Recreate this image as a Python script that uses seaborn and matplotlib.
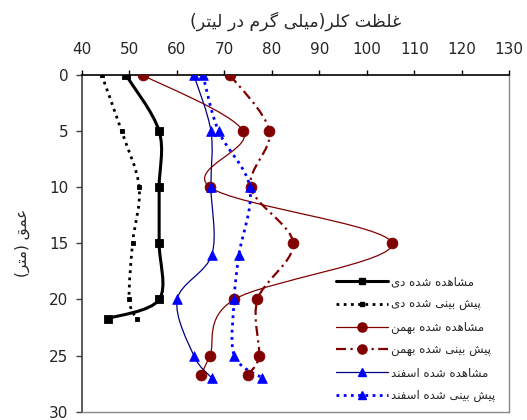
import unicodedata

import numpy as np
import pandas as pd
import matplotlib
matplotlib.use("Agg")
import matplotlib.pyplot as plt
import seaborn as sns
from matplotlib.path import Path
from matplotlib.patches import PathPatch
from matplotlib.lines import Line2D

# ---- data: chloride concentration (mg/L) against depth (m) ----
depth_dey = [0, 5, 10, 15, 20, 21.7]
dey_observed = [49.3, 56.3, 56.3, 56.3, 56.3, 45.5]
dey_predicted = [44.2, 48.4, 52.1, 50.7, 50.0, 51.6]

depth_bahman = [0, 5, 10, 15, 20, 25, 26.7]
bahman_observed = [52.8, 74.0, 67.0, 105.3, 72.1, 67.0, 65.1]
bahman_predicted = [71.2, 79.5, 75.6, 84.5, 77.0, 77.3, 74.9]

depth_esfand = [0, 5, 10, 16, 20, 25, 27]
esfand_observed = [63.6, 67.2, 67.2, 67.4, 60.1, 63.6, 67.4]
esfand_predicted = [65.5, 68.8, 75.4, 73.1, 72.1, 72.1, 78.0]

series_labels = [
    "مشاهده شده دی",
    "پیش بینی شده دی",
    "مشاهده شده بهمن",
    "پیش بینی شده بهمن",
    "مشاهده شده اسفند",
    "پیش بینی شده اسفند",
]
x_title = "غلظت کلر(میلی گرم در لیتر)"
y_title = "عمق (متر)"
x_ticks = list(range(40, 131, 10))
y_ticks = list(range(0, 31, 5))

MIRROR = {"(": ")", ")": "("}


def shape_rtl(text):
    """Join Persian letters into presentation forms and lay them out right-to-left."""
    def forms(ch):
        try:
            name = unicodedata.name(ch)
        except ValueError:
            return {}
        if not name.startswith("ARABIC LETTER"):
            return {}
        out = {}
        for f in ("ISOLATED", "FINAL", "INITIAL", "MEDIAL"):
            try:
                out[f] = unicodedata.lookup(f"{name} {f} FORM")
            except KeyError:
                pass
        return out

    table = [forms(c) for c in text]
    glyphs = []
    for i, ch in enumerate(text):
        f = table[i]
        if not f:
            glyphs.append(MIRROR.get(ch, ch))
            continue
        prev_join = i > 0 and "INITIAL" in table[i - 1] and "FINAL" in f
        next_join = i + 1 < len(text) and "INITIAL" in f and "FINAL" in table[i + 1]
        if prev_join and next_join:
            key = "MEDIAL"
        elif prev_join:
            key = "FINAL"
        elif next_join:
            key = "INITIAL"
        else:
            key = "ISOLATED"
        glyphs.append(f.get(key, f.get("ISOLATED", ch)))
    return "".join(reversed(glyphs))


def smooth_path(xs, ys):
    """Cubic Bezier path through the points (Catmull-Rom style smoothing)."""
    pts = np.column_stack([xs, ys]).astype(float)
    verts = [pts[0]]
    codes = [Path.MOVETO]
    n = len(pts)
    for i in range(n - 1):
        p0 = pts[i - 1] if i > 0 else pts[i]
        p1, p2 = pts[i], pts[i + 1]
        p3 = pts[i + 2] if i + 2 < n else p2
        verts += [p1 + (p2 - p0) / 6.0, p2 - (p3 - p1) / 6.0, p2]
        codes += [Path.CURVE4] * 3
    return Path(verts, codes)


sns.set_style("white")
plt.rcParams["font.family"] = ["DejaVu Sans"]

fig = plt.figure(figsize=(5.27, 4.2), dpi=100)
ax = fig.add_axes([81.7 / 527, 1 - 411.7 / 420, (509.3 - 81.7) / 527, (411.7 - 75) / 420])

dark_red = "#800000"
navy = "#000080"
blue = "#0000FF"

styles = [
    # depths, values, line colour, marker colour, linestyle, lw, marker, size
    (depth_dey, dey_observed, "black", "black", "-", 2.2, "s", 28),
    (depth_dey, dey_predicted, "black", "black", (0, (1.0, 1.6)), 2.0, "s", 12),
    (depth_bahman, bahman_observed, dark_red, dark_red, "-", 0.9, "o", 60),
    (depth_bahman, bahman_predicted, dark_red, dark_red, (0, (4.5, 2, 1, 2)), 1.6, "o", 60),
    (depth_esfand, esfand_observed, navy, blue, "-", 0.9, "^", 48),
    (depth_esfand, esfand_predicted, blue, blue, (0, (1.0, 1.6)), 2.0, "^", 48),
]

frames = []
for label, (d, v, lc, mc, ls, lw, m, s) in zip(series_labels, styles):
    frames.append(pd.DataFrame({"depth": d, "chloride": v, "series": label}))
data = pd.concat(frames, ignore_index=True)

handles = []
for label, (d, v, lc, mc, ls, lw, m, s) in zip(series_labels, styles):
    sub = data[data["series"] == label]
    patch = PathPatch(smooth_path(sub["chloride"], sub["depth"]), fill=False,
                      edgecolor=lc, linewidth=lw, linestyle=ls, capstyle="butt",
                      transform=ax.transData, zorder=2)
    ax.add_patch(patch)
    sns.scatterplot(data=sub, x="chloride", y="depth", marker=m, s=s, color=mc,
                    edgecolor=mc, linewidth=0.6, ax=ax, zorder=3, legend=False)
    handles.append(Line2D([], [], color=lc, linestyle=ls, linewidth=lw, marker=m,
                          markersize=np.sqrt(s) * 0.85, markerfacecolor=mc,
                          markeredgecolor=mc, label=shape_rtl(label)))

ax.set_xlim(40, 130)
ax.set_ylim(30, 0)
ax.xaxis.tick_top()
ax.xaxis.set_label_position("top")
ax.set_xticks(x_ticks)
ax.set_yticks(y_ticks)
ax.set_xlabel(shape_rtl(x_title), fontsize=12.5, labelpad=11)
ax.set_ylabel(shape_rtl(y_title), fontsize=11, labelpad=14)
ax.tick_params(axis="x", direction="out", length=3.5, width=1, pad=9.5,
               labelsize=11, top=True, bottom=False, color="black")
ax.tick_params(axis="y", direction="out", length=4.5, width=1, pad=5,
               labelsize=11, left=True, color="#404040")

for side in ("right", "bottom"):
    ax.spines[side].set_color("#8a8a8a")
    ax.spines[side].set_linewidth(1.0)
ax.spines["top"].set_color("black")
ax.spines["top"].set_linewidth(1.2)
ax.spines["left"].set_color("#404040")
ax.spines["left"].set_linewidth(1.2)

ax.legend(handles=handles, loc="upper left",
          bbox_to_anchor=(336 / 527, 1 - 275 / 420), bbox_transform=fig.transFigure,
          frameon=False, fontsize=8.5, handlelength=4.4, handletextpad=0.3,
          labelspacing=0.83, borderpad=0, borderaxespad=0)

fig.savefig("out.png", dpi=100)
